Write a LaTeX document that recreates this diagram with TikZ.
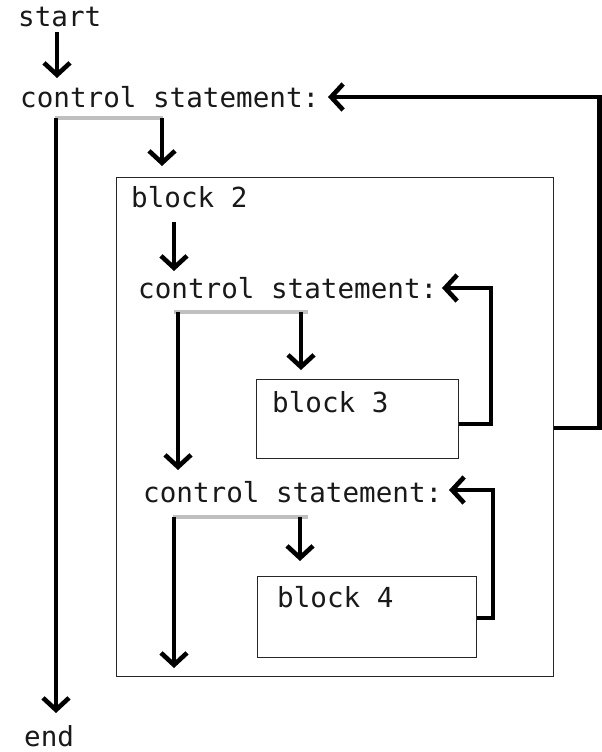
\documentclass[tikz,border=0pt]{standalone}
\usepackage{fontspec}
\setmonofont{DejaVu Sans Mono}
\usetikzlibrary{arrows.meta}
\begin{document}
\begin{tikzpicture}[x=1pt,y=-1pt,
  code/.style={anchor=base west,inner sep=0pt,font=\ttfamily\fontsize{27.6}{30}\selectfont,text=black!90},
  frame/.style={draw=black!85,line width=1.3pt,inner sep=0pt,anchor=north west},
  flow/.style={line width=4.6pt,-{Straight Barb[length=12pt,width=26pt]}},
  branch/.style={draw=black!25,line width=4pt}]
\useasboundingbox (0,0) rectangle (602,752);
\fill[white] (0,0) rectangle (602,752);

% boxes
\node[frame,minimum width=437pt,minimum height=499pt] (box2) at (116,177) {};
\node[frame,minimum width=202pt,minimum height=79pt] (box3) at (256,379) {};
\node[frame,minimum width=219pt,minimum height=81pt] (box4) at (257,576) {};

% texts
\node[code] (start) at (18,27) {start};
\node[code] (cs1) at (20,107) {control statement:};
\node[code] (blk2) at (131,207) {block 2};
\node[code] (cs2) at (138,298) {control statement:};
\node[code] (blk3) at (272,412) {block 3};
\node[code] (cs3) at (143,502) {control statement:};
\node[code] (blk4) at (277,607) {block 4};
\node[code] (end) at (24,746) {end};

% branch points below each control statement
\coordinate (g1a) at (55,118);  \coordinate (g1b) at (163,118);
\coordinate (g2a) at (174,312); \coordinate (g2b) at (308,312);
\coordinate (g3a) at (173,517); \coordinate (g3b) at (308,517);
\draw[branch] (g1a) -- (g1b);
\draw[branch] (g2a) -- (g2b);
\draw[branch] (g3a) -- (g3b);

% forward flow
\draw[flow] (57,32) -- (57,78);
\draw[flow] (56,118) -- (56,713);
\draw[flow] (162,118) -- (162,166);
\draw[flow] (174,222) -- (174,271);
\draw[flow] (178,312) -- (178,470);
\draw[flow] (301,312) -- (301,370);
\draw[flow] (174,517) -- (174,668);
\draw[flow] (300,517) -- (300,561);

% loops back to their control statements
\draw[flow] (box3.east |- 0,424) -| (491,288) -- (442,288);
\draw[flow] (box4.east |- 0,618) -| (493,490) -- (449,490);
\draw[flow] (box2.east |- 0,428) -| (599.5,97) -- (328,97);
\end{tikzpicture}
\end{document}
